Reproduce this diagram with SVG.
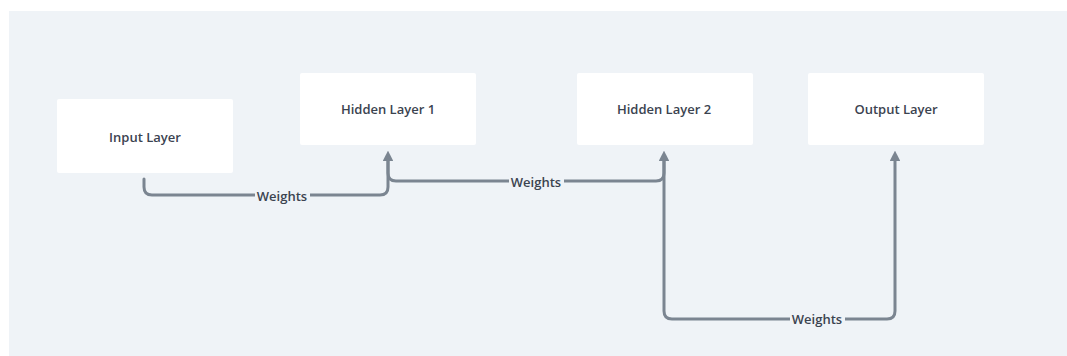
<svg xmlns="http://www.w3.org/2000/svg" width="1067" height="356" viewBox="0 0 1067 356">
<defs>
<style>
.node{fill:#ffffff;}
.lbl{font-family:"Open Sans","Liberation Sans",sans-serif;font-size:13px;fill:#3b4350;text-anchor:middle;dominant-baseline:central;font-weight:600;}
.edge{fill:none;stroke:#7b8591;stroke-width:3;stroke-linecap:round;stroke-linejoin:round;}
.elbl{font-family:"Open Sans","Liberation Sans",sans-serif;font-size:13px;fill:#3b4350;text-anchor:middle;dominant-baseline:central;font-weight:600;}
.lblbg{fill:#eff3f7;}
</style>
<marker id="arr" viewBox="0 0 10 10" refX="5" refY="5" markerWidth="3.6" markerHeight="3.6" orient="auto-start-reverse" markerUnits="strokeWidth">
<path d="M0,0 L10,5 L0,10 Z" fill="#7b8591"/>
</marker>
</defs>
<rect x="0" y="0" width="1067" height="356" fill="#ffffff"/>
<rect x="9" y="11" width="1058" height="345" fill="#eff3f7"/>
<g id="connectors">
<g id="e1">
<path class="edge" d="M144,179 V187 Q144,195 152,195 H380 Q388,195 388,187 V156" marker-end="url(#arr)"/>
<rect class="lblbg" x="255" y="188" width="55" height="16"/>
<text class="elbl" x="282" y="196">Weights</text>
</g>
<g id="e2">
<path class="edge" d="M388,160 V173 Q388,181 396,181 H656 Q664,181 664,173 V156" marker-end="url(#arr)"/>
<rect class="lblbg" x="509" y="174" width="55" height="16"/>
<text class="elbl" x="536" y="182">Weights</text>
</g>
<g id="e3">
<path class="edge" d="M664,160 V311 Q664,319 672,319 H887 Q895,319 895,311 V156" marker-end="url(#arr)"/>
<rect class="lblbg" x="790" y="311" width="55" height="16"/>
<text class="elbl" x="817" y="319">Weights</text>
</g>
</g>
<g id="input-layer">
<rect class="node" x="57" y="99" width="176" height="74" rx="2"/>
<text class="lbl" x="145" y="137">Input Layer</text>
</g>
<g id="hidden-layer-1">
<rect class="node" x="300" y="73" width="176" height="72" rx="2"/>
<text class="lbl" x="388" y="109">Hidden Layer 1</text>
</g>
<g id="hidden-layer-2">
<rect class="node" x="577" y="73" width="176" height="72" rx="2"/>
<text class="lbl" x="664" y="109">Hidden Layer 2</text>
</g>
<g id="output-layer">
<rect class="node" x="808" y="73" width="176" height="72" rx="2"/>
<text class="lbl" x="896" y="109">Output Layer</text>
</g>
</svg>
